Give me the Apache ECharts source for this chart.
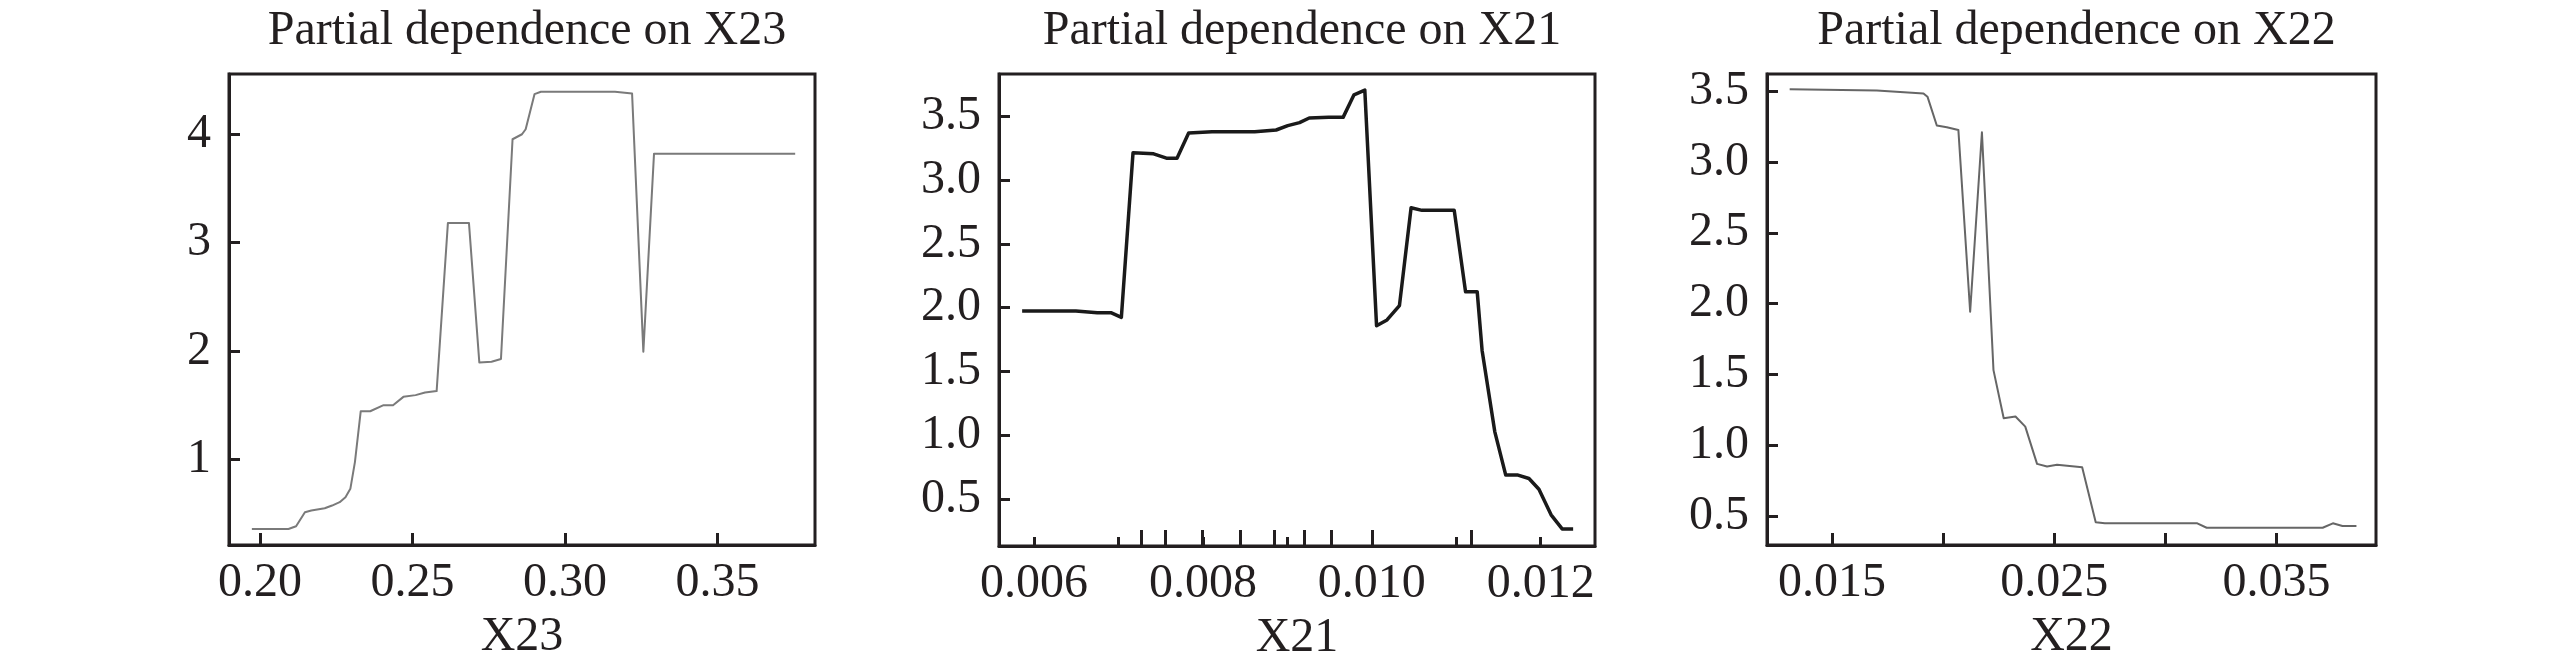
<!DOCTYPE html>
<html>
<head>
<meta charset="utf-8">
<script src="https://cdn.jsdelivr.net/npm/echarts@6/dist/echarts.min.js"></script>
<style>
html,body{margin:0;padding:0;background:#fff;}
#chart{width:2559px;height:669px;}
</style>
</head>
<body>
<div id="chart"></div>
<script>
// ---------- data ----------
const titles = ['Partial dependence on X23', 'Partial dependence on X21', 'Partial dependence on X22'];
const axisNames = ['X23', 'X21', 'X22'];

const x23 = [0.1973,0.2093,0.2118,0.2147,0.2168,0.2212,0.2236,0.2261,0.2280,0.2296,0.2311,0.2330,0.2361,0.2405,0.2436,0.2470,0.2510,0.2541,0.2579,0.2616,0.2685,0.2719,0.2759,0.2790,0.2828,0.2859,0.2871,0.2900,0.2921,0.3164,0.3220,0.3257,0.3292,0.3755];
const pd23 = [0.358,0.358,0.383,0.512,0.528,0.549,0.574,0.605,0.651,0.728,0.975,1.444,1.444,1.500,1.500,1.577,1.593,1.617,1.630,3.182,3.182,1.895,1.901,1.926,3.954,4.000,4.046,4.370,4.392,4.392,4.377,1.994,3.821,3.821];

const x21 = [0.005859,0.006495,0.006749,0.006910,0.007034,0.007172,0.007416,0.007568,0.007693,0.007831,0.008107,0.008613,0.008867,0.009005,0.009144,0.009259,0.009489,0.009660,0.009789,0.009917,0.010056,0.010180,0.010327,0.010465,0.010594,0.010976,0.011110,0.011248,0.011306,0.011456,0.011586,0.011731,0.011861,0.011979,0.012123,0.012254,0.012384];
const pd21 = [1.974,1.974,1.961,1.961,1.924,3.214,3.206,3.172,3.172,3.370,3.380,3.380,3.393,3.427,3.451,3.487,3.492,3.492,3.669,3.706,1.859,1.904,2.016,2.784,2.763,2.763,2.125,2.125,1.665,1.029,0.688,0.688,0.661,0.577,0.376,0.266,0.266];

const x22 = [0.01310,0.01702,0.01912,0.01930,0.01972,0.02017,0.02069,0.02122,0.02175,0.02227,0.02273,0.02326,0.02370,0.02423,0.02468,0.02513,0.02626,0.02687,0.02728,0.03144,0.03186,0.03708,0.03754,0.03797,0.03860];
const pd22 = [3.515,3.505,3.485,3.462,3.258,3.246,3.227,1.943,3.211,1.531,1.191,1.203,1.132,0.869,0.850,0.862,0.845,0.457,0.449,0.449,0.418,0.418,0.449,0.430,0.430];

// ticks
const xTicks23 = [0.20,0.25,0.30,0.35];
const xLabels23 = [0.20,0.25,0.30,0.35];
const yTicks23 = [1,2,3,4];

const xTicks21 = [0.006,0.007,0.008,0.009,0.010,0.011,0.012];
const xLabels21 = [0.006,0.008,0.010,0.012];
const deciles21 = [0.007269,0.007553,0.007989,0.008443,0.008850,0.009205,0.009523,0.010001,0.011175];
const yTicks21 = [0.5,1.0,1.5,2.0,2.5,3.0,3.5];

const xTicks22 = [0.015,0.020,0.025,0.030,0.035];
const xLabels22 = [0.015,0.025,0.035];
const yTicks22 = [0.5,1.0,1.5,2.0,2.5,3.0,3.5];

// ---------- layout / style ----------
const FONT = 'Liberation Serif';
const FS = 48;
const INK = '#231f20';
const grids = [
  {left: 229, right: 2559 - 815, top: 74, bottom: 669 - 545},
  {left: 999, right: 2559 - 1595, top: 74, bottom: 669 - 546},
  {left: 1767, right: 2559 - 2376, top: 74, bottom: 669 - 545}
];
const xRanges = [[0.1898, 0.382], [0.005585, 0.012643], [0.01208, 0.03948]];
const yRanges = [[0.21, 4.556], [0.132, 3.832], [0.296, 3.622]];
const xDigits = [2, 3, 3];
const yDigits = [0, 1, 1];
const xTickSets = [xTicks23, xTicks21, xTicks22];
const xLabelSets = [xLabels23, xLabels21, xLabels22];
const yTickSets = [yTicks23, yTicks21, yTicks22];
const xTickLen = [12, 9, 12];
const lineColors = ['#7a7a7a', '#1a1a1a', '#666666'];
const lineWidths = [2, 3.5, 2];
const xsAll = [x23, x21, x22];
const ysAll = [pd23, pd21, pd22];

function pairs(xs, ys) { return xs.map((v, i) => [v, ys[i]]); }

const option = {
  animation: false,
  backgroundColor: '#fff',
  title: grids.map((g, i) => ({
    text: titles[i],
    left: (g.left + (2559 - g.right)) / 2,
    textAlign: 'center',
    top: 2,
    textStyle: {fontFamily: FONT, fontSize: FS, fontWeight: 'normal', color: INK}
  })),
  grid: grids.map(g => Object.assign({show: true, borderColor: INK, borderWidth: 3, backgroundColor: 'transparent', containLabel: false}, g)),
  xAxis: [],
  yAxis: [],
  series: []
};

for (let i = 0; i < 3; i++) {
  option.xAxis.push({
    type: 'value', gridIndex: i, position: 'bottom',
    min: xRanges[i][0], max: xRanges[i][1],
    name: axisNames[i], nameLocation: 'middle', nameGap: 68,
    nameTextStyle: {fontFamily: FONT, fontSize: FS, color: INK},
    axisLine: {show: true, onZero: false, lineStyle: {color: INK, width: 3}},
    axisTick: {show: true, inside: true, length: xTickLen[i], customValues: xTickSets[i], lineStyle: {color: INK, width: 3}},
    axisLabel: {show: true, margin: 14, customValues: xLabelSets[i], fontFamily: FONT, fontSize: FS, color: INK,
      formatter: (v) => Number(v).toFixed(xDigits[i])},
    splitLine: {show: false}
  });
  option.yAxis.push({
    type: 'value', gridIndex: i, position: 'left',
    min: yRanges[i][0], max: yRanges[i][1],
    axisLine: {show: true, onZero: false, lineStyle: {color: INK, width: 3}},
    axisTick: {show: true, inside: true, length: 11, customValues: yTickSets[i], lineStyle: {color: INK, width: 3}},
    axisLabel: {show: true, margin: 18, customValues: yTickSets[i], fontFamily: FONT, fontSize: FS, color: INK,
      formatter: (v) => Number(v).toFixed(yDigits[i])},
    splitLine: {show: false}
  });
  option.series.push({
    type: 'line', xAxisIndex: i, yAxisIndex: i,
    data: pairs(xsAll[i], ysAll[i]),
    showSymbol: false, symbol: 'none',
    lineStyle: {color: lineColors[i], width: lineWidths[i], join: 'round'},
    silent: true
  });
}

// decile rug ticks for X21 (taller ticks)
option.xAxis.push({
  type: 'value', gridIndex: 1, position: 'bottom', offset: 0,
  min: xRanges[1][0], max: xRanges[1][1],
  axisLine: {show: false},
  axisTick: {show: true, inside: true, length: 16, customValues: deciles21, lineStyle: {color: INK, width: 3}},
  axisLabel: {show: false},
  splitLine: {show: false}
});

const chart = echarts.init(document.getElementById('chart'), null, {renderer: 'canvas'});
chart.setOption(option);
</script>
</body>
</html>
